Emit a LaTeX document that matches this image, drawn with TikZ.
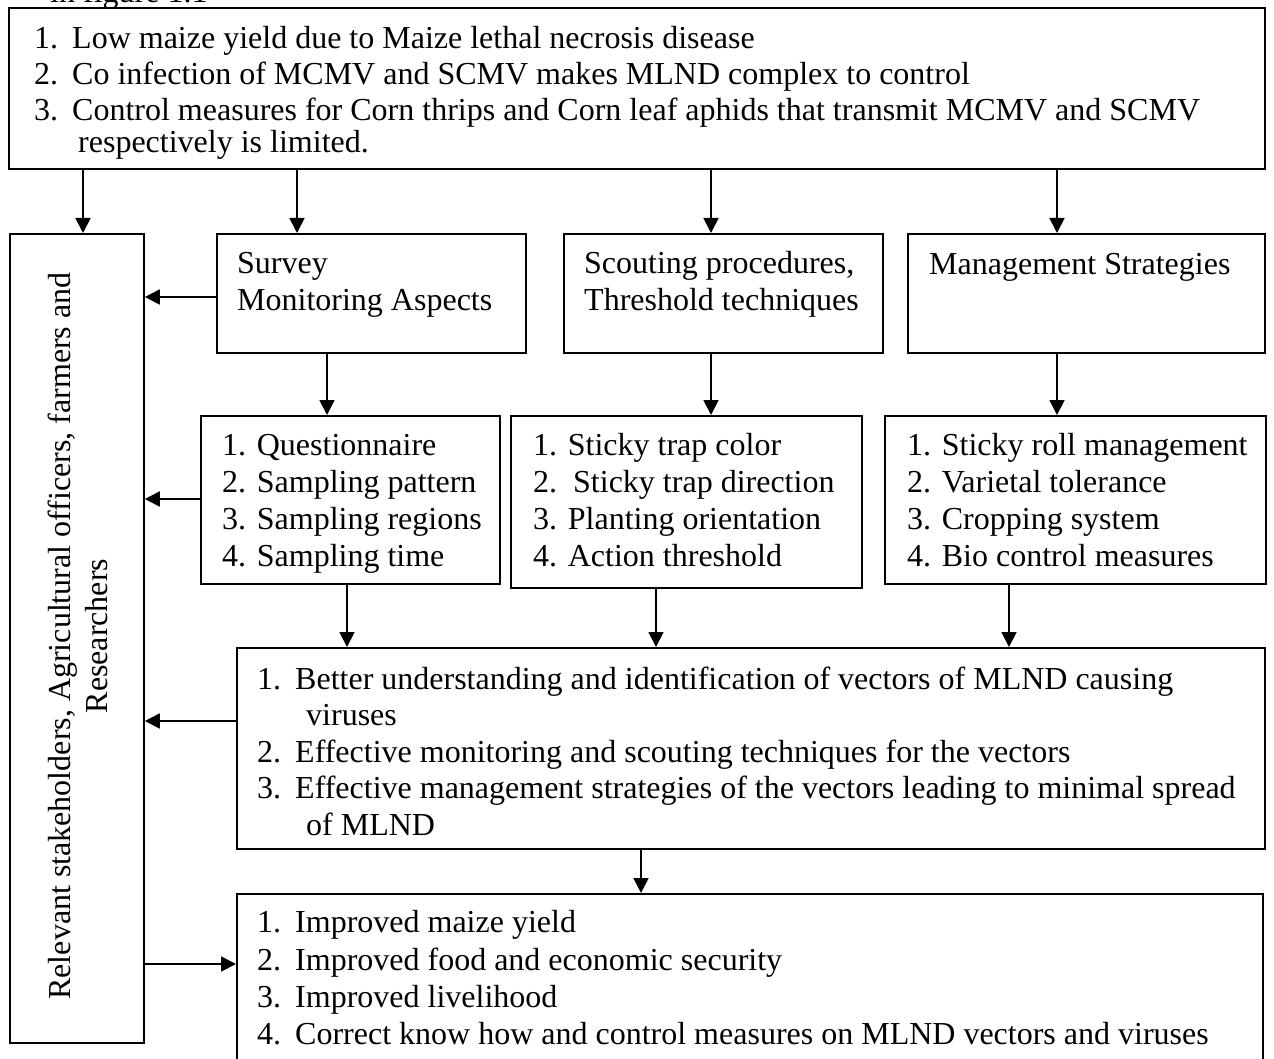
\documentclass[tikz,border=0pt]{standalone}
\usepackage{fontspec}
\setmainfont{Liberation Serif}
\usetikzlibrary{arrows.meta}
\begin{document}
\begin{tikzpicture}[x=1pt,y=-1pt,
  box/.style={draw, line width=1.8pt, inner sep=0pt, anchor=north west},
  txt/.style={anchor=base west, inner sep=0pt, font=\fontsize{32}{37}\selectfont},
  arr/.style={line width=1.8pt, -{Triangle[length=15pt,width=15pt]}}]
\useasboundingbox (0,0) rectangle (1274,1059);
\fill[white] (0,0) rectangle (1274,1059);

% boxes
\node[box, minimum width=1256pt, minimum height=161pt] (top) at (8,7) {};
\node[box, minimum width=134pt, minimum height=809pt] (left) at (9,233) {};
\node[box, minimum width=309pt, minimum height=119pt] (survey) at (216,233) {};
\node[box, minimum width=319pt, minimum height=119pt] (scout) at (563,233) {};
\node[box, minimum width=357pt, minimum height=119pt] (mgmt) at (907,233) {};
\node[box, minimum width=299pt, minimum height=168pt] (quest) at (200,415) {};
\node[box, minimum width=351pt, minimum height=172pt] (sticky) at (510,415) {};
\node[box, minimum width=381pt, minimum height=168pt] (roll) at (884,415) {};
\node[box, minimum width=1028pt, minimum height=201pt] (mid) at (236,647) {};
\node[box, minimum width=1026pt, minimum height=200pt] (bot) at (236,893) {};

% cut-off text at the very top
\node[txt] (cap) at (50,3) {in figure 1.1};

% top box text
\node[txt] (ta1) at (34,48.5) {1.};
\node[txt] (ta2) at (72,48.5) {Low maize yield due to Maize lethal necrosis disease};
\node[txt] (tb1) at (34,85) {2.};
\node[txt] (tb2) at (72,85) {Co infection of MCMV and SCMV makes MLND complex to control};
\node[txt] (tc1) at (34,120.5) {3.};
\node[txt] (tc2) at (72,120.5) {Control measures for Corn thrips and Corn leaf aphids that transmit MCMV and SCMV};
\node[txt] (tc3) at (78,153) {respectively is limited.};

% left box text
\node[inner sep=0pt, rotate=90, align=center, font=\fontsize{32}{37}\selectfont] (lefttxt) at (78,636)
  {Relevant stakeholders, Agricultural officers, farmers and\\Researchers};

% second row
\node[txt] (s1) at (237,274) {Survey};
\node[txt] (s2) at (237,311) {Monitoring Aspects};
\node[txt] (c1) at (584,274) {Scouting procedures,};
\node[txt] (c2) at (584,311) {Threshold techniques};
\node[txt] (m1) at (929,275) {Management Strategies};

% third row
\node[txt] (q1) at (222,455) {1. Questionnaire};
\node[txt] (q2) at (222,492) {2. Sampling pattern};
\node[txt] (q3) at (222,529) {3. Sampling regions};
\node[txt] (q4) at (222,566) {4. Sampling time};
\node[txt] (k1) at (533,455) {1. Sticky trap color};
\node[txt] (k2) at (533,492) {2.\ \ Sticky trap direction};
\node[txt] (k3) at (533,529) {3. Planting orientation};
\node[txt] (k4) at (533,566) {4. Action threshold};
\node[txt] (r1t) at (907,455) {1. Sticky roll management};
\node[txt] (r2t) at (907,492) {2. Varietal tolerance};
\node[txt] (r3t) at (907,529) {3. Cropping system};
\node[txt] (r4t) at (907,566) {4. Bio control measures};

% middle box text
\node[txt] (ma1) at (257,689) {1.};
\node[txt] (ma2) at (295,689) {Better understanding and identification of vectors of MLND causing};
\node[txt] (ma3) at (306,725) {viruses};
\node[txt] (mb1) at (257,762) {2.};
\node[txt] (mb2) at (295,762) {Effective monitoring and scouting techniques for the vectors};
\node[txt] (mc1) at (257,798) {3.};
\node[txt] (mc2) at (295,798) {Effective management strategies of the vectors leading to minimal spread};
\node[txt] (mc3) at (306,835) {of MLND};

% bottom box text
\node[txt] (ba1) at (257,932) {1.};
\node[txt] (ba2) at (295,932) {Improved maize yield};
\node[txt] (bb1) at (257,970) {2.};
\node[txt] (bb2) at (295,970) {Improved food and economic security};
\node[txt] (bc1) at (257,1007) {3.};
\node[txt] (bc2) at (295,1007) {Improved livelihood};
\node[txt] (bd1) at (257,1044) {4.};
\node[txt] (bd2) at (295,1044) {Correct know how and control measures on MLND vectors and viruses};

% connector guide coordinates
\coordinate (xa) at (83,0);
\coordinate (xb) at (297,0);
\coordinate (xc) at (711,0);
\coordinate (xd) at (1057,0);
\coordinate (xe) at (327,0);
\coordinate (xf) at (347,0);
\coordinate (xg) at (656,0);
\coordinate (xh) at (1009,0);
\coordinate (xi) at (641,0);
\coordinate (ya) at (0,297);
\coordinate (yb) at (0,499);
\coordinate (yc) at (0,721);
\coordinate (yd) at (0,964);

% connectors
\draw[arr] (top.south -| xa) -- (left.north -| xa);
\draw[arr] (top.south -| xb) -- (survey.north -| xb);
\draw[arr] (top.south -| xc) -- (scout.north -| xc);
\draw[arr] (top.south -| xd) -- (mgmt.north -| xd);
\draw[arr] (survey.west |- ya) -- (left.east |- ya);
\draw[arr] (quest.west |- yb) -- (left.east |- yb);
\draw[arr] (mid.west |- yc) -- (left.east |- yc);
\draw[arr] (left.east |- yd) -- (bot.west |- yd);
\draw[arr] (survey.south -| xe) -- (quest.north -| xe);
\draw[arr] (scout.south -| xc) -- (sticky.north -| xc);
\draw[arr] (mgmt.south -| xd) -- (roll.north -| xd);
\draw[arr] (quest.south -| xf) -- (mid.north -| xf);
\draw[arr] (sticky.south -| xg) -- (mid.north -| xg);
\draw[arr] (roll.south -| xh) -- (mid.north -| xh);
\draw[arr] (mid.south -| xi) -- (bot.north -| xi);
\end{tikzpicture}
\end{document}
